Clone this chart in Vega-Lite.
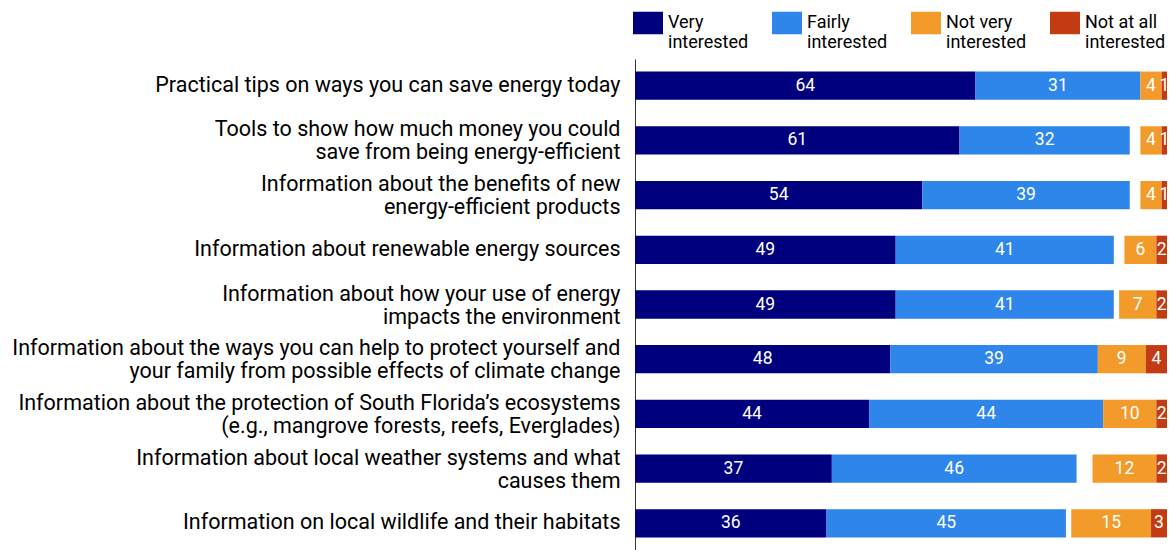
{
  "$schema": "https://vega.github.io/schema/vega-lite/v6.json",
  "width": 532,
  "height": 491,
  "autosize": {"type": "none"},
  "padding": {"left": 635, "top": 59, "right": 3, "bottom": 0},
  "config": {"view": {"stroke": null}, "font": "Roboto"},
  "data": {"values": [
    {"item": "Practical tips on ways you can save energy today", "cat": "Very interested", "v": 64},
    {"item": "Practical tips on ways you can save energy today", "cat": "Fairly interested", "v": 31},
    {"item": "Practical tips on ways you can save energy today", "cat": "Not very interested", "v": 4},
    {"item": "Practical tips on ways you can save energy today", "cat": "Not at all interested", "v": 1},
    {"item": "Tools to show how much money you could\nsave from being energy-efficient", "cat": "Very interested", "v": 61},
    {"item": "Tools to show how much money you could\nsave from being energy-efficient", "cat": "Fairly interested", "v": 32},
    {"item": "Tools to show how much money you could\nsave from being energy-efficient", "cat": "Not very interested", "v": 4},
    {"item": "Tools to show how much money you could\nsave from being energy-efficient", "cat": "Not at all interested", "v": 1},
    {"item": "Information about the benefits of new\nenergy-efficient products", "cat": "Very interested", "v": 54},
    {"item": "Information about the benefits of new\nenergy-efficient products", "cat": "Fairly interested", "v": 39},
    {"item": "Information about the benefits of new\nenergy-efficient products", "cat": "Not very interested", "v": 4},
    {"item": "Information about the benefits of new\nenergy-efficient products", "cat": "Not at all interested", "v": 1},
    {"item": "Information about renewable energy sources", "cat": "Very interested", "v": 49},
    {"item": "Information about renewable energy sources", "cat": "Fairly interested", "v": 41},
    {"item": "Information about renewable energy sources", "cat": "Not very interested", "v": 6},
    {"item": "Information about renewable energy sources", "cat": "Not at all interested", "v": 2},
    {"item": "Information about how your use of energy\nimpacts the environment", "cat": "Very interested", "v": 49},
    {"item": "Information about how your use of energy\nimpacts the environment", "cat": "Fairly interested", "v": 41},
    {"item": "Information about how your use of energy\nimpacts the environment", "cat": "Not very interested", "v": 7},
    {"item": "Information about how your use of energy\nimpacts the environment", "cat": "Not at all interested", "v": 2},
    {"item": "Information about the ways you can help to protect yourself and\nyour family from possible effects of climate change", "cat": "Very interested", "v": 48},
    {"item": "Information about the ways you can help to protect yourself and\nyour family from possible effects of climate change", "cat": "Fairly interested", "v": 39},
    {"item": "Information about the ways you can help to protect yourself and\nyour family from possible effects of climate change", "cat": "Not very interested", "v": 9},
    {"item": "Information about the ways you can help to protect yourself and\nyour family from possible effects of climate change", "cat": "Not at all interested", "v": 4},
    {"item": "Information about the protection of South Florida’s ecosystems\n(e.g., mangrove forests, reefs, Everglades)", "cat": "Very interested", "v": 44},
    {"item": "Information about the protection of South Florida’s ecosystems\n(e.g., mangrove forests, reefs, Everglades)", "cat": "Fairly interested", "v": 44},
    {"item": "Information about the protection of South Florida’s ecosystems\n(e.g., mangrove forests, reefs, Everglades)", "cat": "Not very interested", "v": 10},
    {"item": "Information about the protection of South Florida’s ecosystems\n(e.g., mangrove forests, reefs, Everglades)", "cat": "Not at all interested", "v": 2},
    {"item": "Information about local weather systems and what\ncauses them", "cat": "Very interested", "v": 37},
    {"item": "Information about local weather systems and what\ncauses them", "cat": "Fairly interested", "v": 46},
    {"item": "Information about local weather systems and what\ncauses them", "cat": "Not very interested", "v": 12},
    {"item": "Information about local weather systems and what\ncauses them", "cat": "Not at all interested", "v": 2},
    {"item": "Information on local wildlife and their habitats", "cat": "Very interested", "v": 36},
    {"item": "Information on local wildlife and their habitats", "cat": "Fairly interested", "v": 45},
    {"item": "Information on local wildlife and their habitats", "cat": "Not very interested", "v": 15},
    {"item": "Information on local wildlife and their habitats", "cat": "Not at all interested", "v": 3}
  ]},
  "encoding": {
    "y": {
      "field": "item", "type": "nominal", "sort": null, "title": null,
      "scale": {"paddingInner": 0.483, "paddingOuter": 0.23},
      "axis": {
        "domain": true, "domainColor": "#333333", "domainWidth": 1,
        "ticks": false, "tickSize": 0, "grid": false,
        "labelFontSize": 21.5, "labelColor": "#000000", "labelPadding": 15,
        "labelLimit": 700, "labelLineHeight": 23,
        "labelOffset": {"condition": {"test": "indexof(datum.label, '\\n') >= 0", "value": -10}, "value": 0},
        "labelExpr": "split(datum.label, '\\n')"
      }
    },
    "color": {
      "field": "cat", "type": "nominal",
      "scale": {
        "domain": ["Very interested", "Fairly interested", "Not very interested", "Not at all interested"],
        "range": ["#00007e", "#2e86eb", "#f29b2b", "#c33b12"]
      },
      "legend": {
        "orient": "none", "legendX": -2, "legendY": -51,
        "direction": "horizontal", "columns": 4, "title": null,
        "symbolType": "M-1,-0.75H1V0.75H-1Z", "symbolSize": 900,
        "symbolStrokeWidth": 0, "symbolOpacity": 1,
        "labelFontSize": 18, "labelColor": "#000000", "labelLineHeight": 20,
        "labelOffset": 5, "columnPadding": 23, "labelLimit": 200,
        "labelExpr": "[replace(datum.label, ' interested', ''), 'interested']"
      }
    }
  },
  "layer": [
    {
      "transform": [
        {"filter": "datum.cat === 'Very interested' || datum.cat === 'Fairly interested'"},
        {"stack": "v", "groupby": ["item"], "sort": [{"field": "cat", "order": "descending"}], "as": ["v0", "v1"]},
        {"calculate": "(datum.v0 + datum.v1) / 2", "as": "mid"}
      ],
      "layer": [
        {
          "mark": {"type": "bar"},
          "encoding": {
            "x": {"field": "v0", "type": "quantitative", "scale": {"domain": [0, 100]}, "axis": null},
            "x2": {"field": "v1"}
          }
        },
        {
          "mark": {"type": "text", "fontSize": 17.5, "baseline": "middle"},
          "encoding": {
            "x": {"field": "mid", "type": "quantitative", "scale": {"domain": [0, 100]}, "axis": null},
            "text": {"field": "v", "type": "quantitative"},
            "color": {"value": "#ffffff"}
          }
        }
      ]
    },
    {
      "transform": [
        {"filter": "datum.cat === 'Not very interested' || datum.cat === 'Not at all interested'"},
        {"stack": "v", "groupby": ["item"], "sort": [{"field": "cat", "order": "ascending"}], "as": ["v0", "v1"]},
        {"calculate": "(datum.v0 + datum.v1) / 2", "as": "mid"}
      ],
      "layer": [
        {
          "mark": {"type": "bar"},
          "encoding": {
            "x": {"field": "v0", "type": "quantitative", "scale": {"domain": [0, 100], "reverse": true}, "axis": null},
            "x2": {"field": "v1"}
          }
        },
        {
          "mark": {"type": "text", "fontSize": 17.5, "baseline": "middle"},
          "encoding": {
            "x": {"field": "mid", "type": "quantitative", "scale": {"domain": [0, 100], "reverse": true}, "axis": null},
            "text": {"field": "v", "type": "quantitative"},
            "color": {"value": "#ffffff"}
          }
        }
      ]
    }
  ],
  "resolve": {"scale": {"x": "independent"}}
}
